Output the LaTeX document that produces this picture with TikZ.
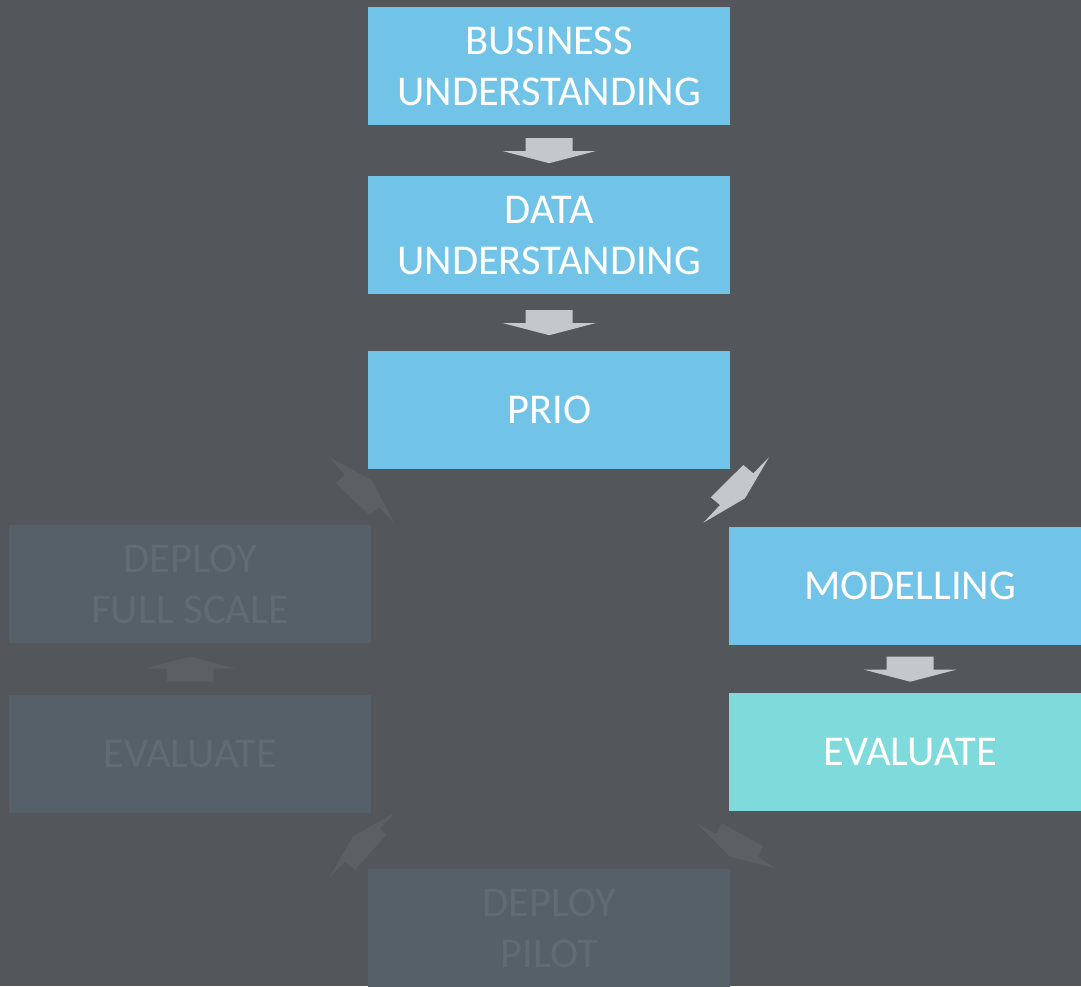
\documentclass[tikz,border=0pt]{standalone}
\usepackage{fontspec}
\setmainfont{Carlito}
\usetikzlibrary{calc}
\definecolor{bgcol}{HTML}{53565B}
\definecolor{stepblue}{HTML}{71C4E8}
\definecolor{stepteal}{HTML}{7FDBDB}
\definecolor{dimfill}{HTML}{566068}
\definecolor{dimtext}{HTML}{606B73}
\definecolor{arrowlight}{HTML}{C5C8CA}
\definecolor{arrowdim}{HTML}{5C5F63}
\begin{document}
\begin{tikzpicture}[x=1pt,y=-1pt,
  box/.style={rectangle, minimum width=362pt, minimum height=118pt, inner sep=0pt,
    align=center, anchor=north west, font=\fontsize{42.5}{51}\selectfont},
  activebox/.style={box, fill=stepblue, text=white},
  evalbox/.style={box, fill=stepteal, text=white},
  dimbox/.style={box, fill=dimfill, text=dimtext},
  downblock/.pic={\fill[arrowlight] (-23.5,-12.5) -- (23.5,-12.5) -- (23.5,0.5) -- (46,0.5)
      -- (0,12.5) -- (-46,0.5) -- (-23.5,0.5) -- cycle;},
  upblock/.pic={\fill[arrowdim] (-23.5,12.5) -- (23.5,12.5) -- (23.5,-0.5) -- (46,-0.5)
      -- (0,-12.5) -- (-46,-0.5) -- (-23.5,-0.5) -- cycle;}
]
\useasboundingbox (0,0) rectangle (1081,986);
\clip (0,0) rectangle (1081,986);
\fill[bgcol] (0,0) rectangle (1081,986);

% main flow
\node[activebox] (bu)   at (368,7)   {BUSINESS\\UNDERSTANDING};
\node[activebox] (du)   at (368,176) {DATA\\UNDERSTANDING};
\node[activebox] (prio) at (368,351) {PRIO};
\node[activebox] (mod)  at (729,527) {MODELLING};
\node[evalbox]   (evr)  at (729,693) {EVALUATE};

% later, inactive steps
\node[dimbox] (pilot) at (368,869) {DEPLOY\\PILOT};
\node[dimbox] (evl)   at (9,695)   {EVALUATE};
\node[dimbox] (dfs)   at (9,525)   {DEPLOY\\FULL SCALE};

% straight block arrows
\pic at ($(bu.south)!0.5!(du.north)$) {downblock};
\pic at ($(du.south)!0.5!(prio.north)$) {downblock};
\pic at ($(mod.south)!0.5!(evr.north)$) {downblock};
\pic at ($(evl.north)!0.5!(dfs.south)$) {upblock};

% diagonal arrows around the cycle
\fill[arrowlight] (769,457.3) -- (753.3,473.3) -- (743.3,465) -- (710.7,497.3)
  -- (720,505) -- (703.3,522.7) -- (745,498.3) -- cycle;
\fill[arrowdim] (696.7,823.3) -- (716,834) -- (721.7,823.3) -- (762.7,846)
  -- (758.3,856.7) -- (775,868.3) -- (730,856.7) -- cycle;
\fill[arrowdim] (394,813.3) -- (380,828.3) -- (386,835) -- (355,870)
  -- (345,861.7) -- (329.3,877.3) -- (353.3,836) -- cycle;
\fill[arrowdim] (329.3,457.3) -- (345,475) -- (336,483.3) -- (369.3,515)
  -- (379.3,507.3) -- (394,522.7) -- (371.7,480) -- cycle;
\end{tikzpicture}
\end{document}
